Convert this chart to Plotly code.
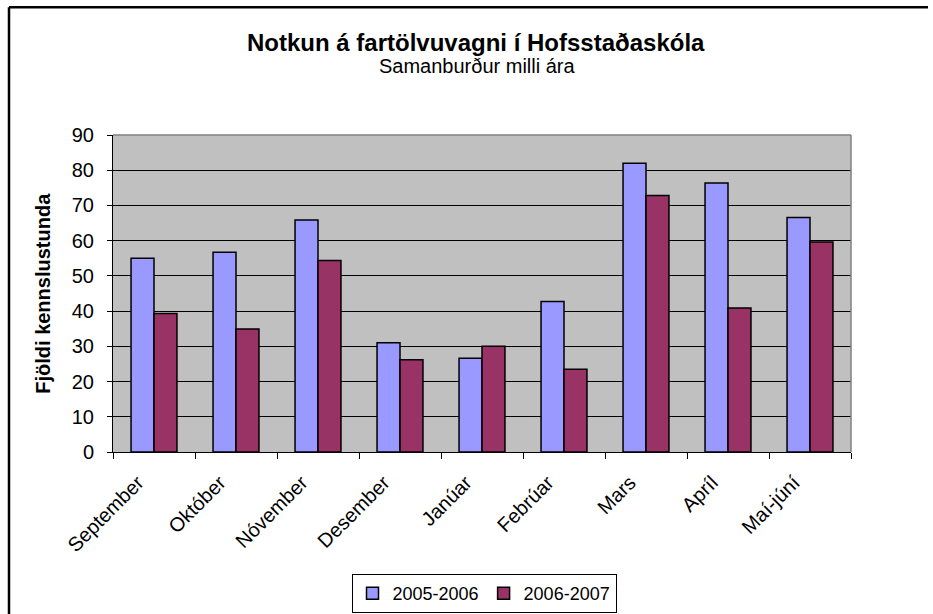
import plotly.graph_objects as go

categories = ["September", "Október", "Nóvember", "Desember", "Janúar",
              "Febrúar", "Mars", "Apríl", "Maí-júní"]
series_2005_2006 = [55.0, 56.7, 65.9, 31.0, 26.6, 42.7, 82.0, 76.4, 66.6]
series_2006_2007 = [39.3, 34.9, 54.4, 26.2, 30.0, 23.5, 72.8, 40.9, 59.6]
series_names = ["2005-2006", "2006-2007"]
y_ticks = [0, 10, 20, 30, 40, 50, 60, 70, 80, 90]

FONT = "Liberation Sans, Arial, sans-serif"

fig = go.Figure()
fig.add_trace(go.Bar(x=categories, y=series_2005_2006, name=series_names[0],
                     marker=dict(color="#9999FF", line=dict(color="black", width=1.5))))
fig.add_trace(go.Bar(x=categories, y=series_2006_2007, name=series_names[1],
                     marker=dict(color="#993366", line=dict(color="black", width=1.5))))

L, R, T, B = 113, 82, 135, 161.5
W, H = 933, 614
pw = W - L - R
ph = H - T - B

def px_x(p):
    return (p - L) / pw

def px_y(p):
    return (H - B - p) / ph

fig.update_layout(
    width=W, height=H,
    margin=dict(l=L, r=R, t=T, b=B, pad=0),
    paper_bgcolor="white",
    plot_bgcolor="#C0C0C0",
    barmode="group",
    bargap=0.44,
    bargroupgap=0,
    font=dict(family=FONT, color="black", size=20),
    showlegend=True,
    legend=dict(
        orientation="h",
        xref="container", yref="container",
        x=484 / W, xanchor="center",
        y=1 - 574 / H, yanchor="top",
        bordercolor="black", borderwidth=1,
        bgcolor="white",
        font=dict(family=FONT, size=18, color="black"),
        itemwidth=30,
        tracegroupgap=0,
    ),
    xaxis=dict(
        tickangle=-45,
        ticks="outside", ticklen=6, tickcolor="black", tickwidth=1,
        tickson="boundaries",
        ticklabelstandoff=10,
        ticklabelshift=-16,
        showline=True, linecolor="black", linewidth=1,
        showgrid=False,
        tickfont=dict(family=FONT, size=20, color="black"),
    ),
    yaxis=dict(
        range=[0, 90],
        tickvals=y_ticks,
        ticks="outside", ticklen=5, tickcolor="black", tickwidth=1,
        ticklabelstandoff=9,
        showline=True, linecolor="black", linewidth=1,
        showgrid=True, gridcolor="black", gridwidth=1,
        zeroline=False,
        tickfont=dict(family=FONT, size=20, color="black"),
    ),
    annotations=[
        dict(text="<b>Notkun á fartölvuvagni í Hofsstaðaskóla</b>",
             xref="paper", yref="paper", x=px_x(476), y=px_y(42),
             xanchor="center", yanchor="middle", showarrow=False,
             font=dict(family=FONT, size=24, color="black")),
        dict(text="Samanburður milli ára",
             xref="paper", yref="paper", x=px_x(477), y=px_y(66),
             xanchor="center", yanchor="middle", showarrow=False,
             font=dict(family=FONT, size=20, color="black")),
        dict(text="<b>Fjöldi kennslustunda</b>",
             xref="paper", yref="paper", x=px_x(43), y=px_y(294),
             xanchor="center", yanchor="middle", showarrow=False, textangle=-90,
             font=dict(family=FONT, size=20, color="black")),
    ],
    shapes=[
        dict(type="line", xref="paper", yref="paper", x0=0, x1=1, y0=1, y1=1,
             line=dict(color="#808080", width=1.5)),
        dict(type="line", xref="paper", yref="paper", x0=1, x1=1, y0=0, y1=1,
             line=dict(color="#808080", width=1.5)),
        dict(type="line", xref="paper", yref="paper",
             x0=px_x(9), x1=px_x(928), y0=px_y(7), y1=px_y(7),
             line=dict(color="black", width=2.5)),
        dict(type="line", xref="paper", yref="paper",
             x0=px_x(9), x1=px_x(9), y0=px_y(7), y1=px_y(640),
             line=dict(color="black", width=2.5)),
    ],
)

fig.write_html("out.html",
               config={"displayModeBar": False},
               post_script="document.body.style.margin='0';document.body.style.overflow='hidden';")
